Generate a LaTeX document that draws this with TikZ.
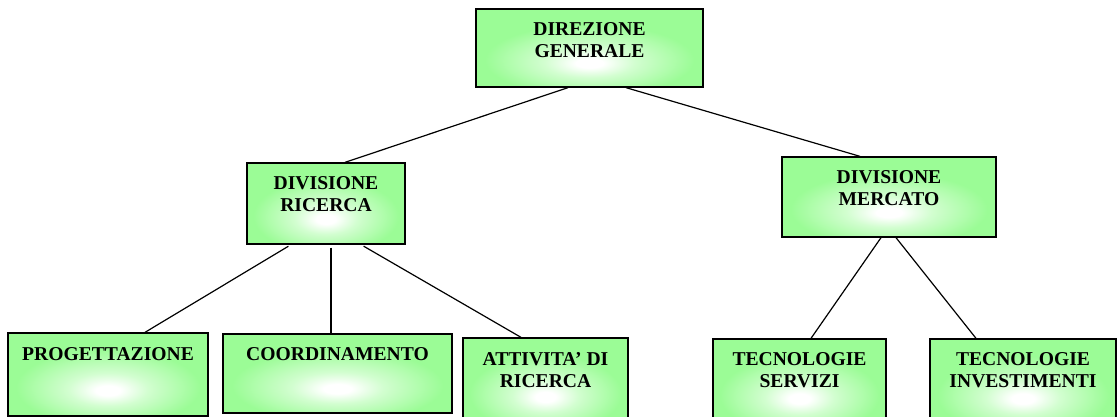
\documentclass[tikz,border=0pt]{standalone}
\usepackage{fontspec}
\setmainfont{Liberation Serif}
\usepackage{tikz}
\definecolor{boxgreen}{RGB}{155,252,150}
\colorlet{boxhalf}{boxgreen!45!white}
\pgfdeclareradialshading{boxglow}{\pgfpoint{0bp}{-10bp}}{color(0bp)=(white); color(3bp)=(white); color(10bp)=(boxhalf); color(23bp)=(boxgreen); color(100bp)=(boxgreen)}

\begin{document}
\begin{tikzpicture}[x=1pt,y=-1pt]
	\tikzstyle{every node}+=[inner sep=0pt]
	\tikzstyle{unit}=[draw=black, line width=1.3pt, shade, shading=boxglow, align=center, font=\fontsize{19.6}{22}\selectfont\bfseries]
	\tikzstyle{link}=[black, line width=1.2pt]
	\useasboundingbox (0,0) rectangle (1118,417);
	\clip (0,0) rectangle (1118,417);
	% top
	\node [unit, minimum width=227pt, minimum height=78pt, text depth=15pt] (dg) at (589.5,48) {DIREZIONE\\GENERALE};
	% divisions
	\node [unit, minimum width=158pt, minimum height=81pt, text depth=19pt] (dr) at (326,203.5) {DIVISIONE\\RICERCA};
	\node [unit, minimum width=214pt, minimum height=80pt, text depth=17pt] (dm) at (889,197) {DIVISIONE\\MERCATO};
	% offices
	\node [unit, minimum width=200pt, minimum height=83pt, text depth=41pt] (prog) at (108,374.5) {PROGETTAZIONE};
	\node [unit, minimum width=229pt, minimum height=79pt, text depth=39pt] (coord) at (337.5,373.5) {COORDINAMENTO};
	\node [unit, minimum width=165pt, minimum height=85pt, text depth=21pt] (att) at (545.5,380.5) {ATTIVITA' DI\\RICERCA};
	\node [unit, minimum width=173pt, minimum height=86pt, text depth=24pt] (ts) at (799.5,382) {TECNOLOGIE\\SERVIZI};
	\node [unit, minimum width=186pt, minimum height=86pt, text depth=24pt] (ti) at (1023,382) {TECNOLOGIE\\INVESTIMENTI};
	% connectors
	\draw [link] ([xshift=-21.5pt]dg.south) -- ([xshift=19pt]dr.north);
	\draw [link] ([xshift=36.5pt]dg.south) -- ([xshift=-29pt]dm.north);
	\draw [link, shorten <=3pt] ([xshift=-35pt]dr.south) -- ([xshift=37pt]prog.north);
	\draw [link, shorten <=3pt] ([xshift=5pt]dr.south) -- ([xshift=-6.5pt]coord.north);
	\draw [link, shorten <=3pt] ([xshift=35pt]dr.south) -- ([xshift=-24.5pt]att.north);
	\draw [link] ([xshift=-8pt]dm.south) -- ([xshift=11.5pt]ts.north);
	\draw [link] ([xshift=7pt]dm.south) -- ([xshift=-47pt]ti.north);
\end{tikzpicture}
\end{document}
